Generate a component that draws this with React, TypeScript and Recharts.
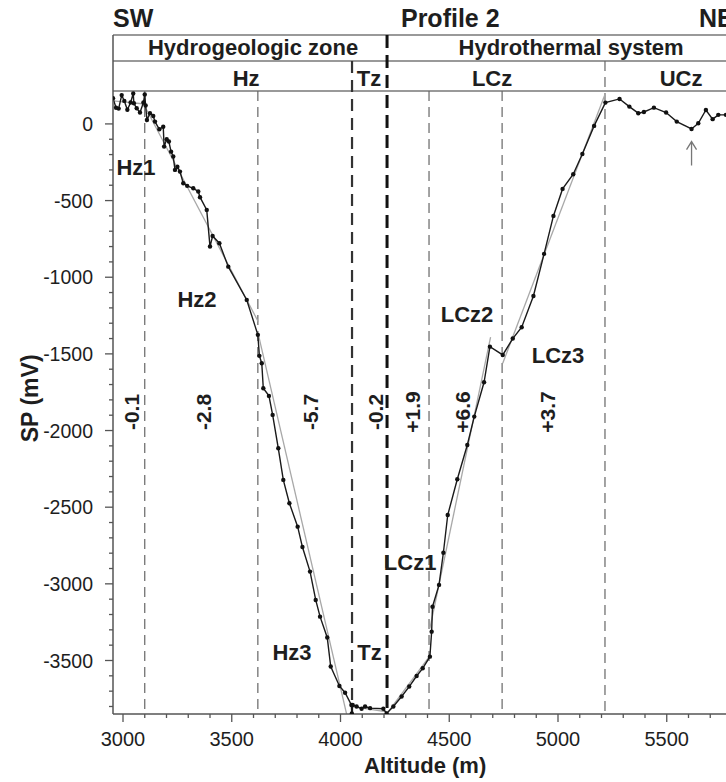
import React from 'react';
import { LineChart, Line, XAxis, YAxis, ReferenceLine, ReferenceDot } from 'recharts';

const FONT = 'Liberation Sans, Arial, Helvetica, sans-serif';

// SP profile (altitude m, SP mV)
const profileAltitude = [
  2954, 2968, 2980, 2994, 3006, 3020, 3035, 3047, 3050, 3063, 3078, 3094, 3100, 3104, 3110, 3124, 3139,
  3147, 3167, 3185, 3189, 3201, 3211, 3221, 3231, 3239, 3250, 3262, 3277, 3295, 3323, 3346, 3354, 3385,
  3400, 3412, 3443, 3484, 3569, 3620, 3627, 3638, 3645, 3671, 3688, 3714, 3737, 3765, 3803, 3825, 3860,
  3886, 3906, 3939, 3955, 3995, 4021, 4050, 4052, 4056, 4074, 4097, 4113, 4136, 4197, 4212, 4243, 4281,
  4316, 4350, 4378, 4411, 4419, 4423, 4453, 4473, 4493, 4537, 4583, 4615, 4660, 4687, 4746, 4792, 4833,
  4887, 4936, 4979, 5021, 5070, 5112, 5166, 5218, 5283, 5328, 5369, 5395, 5441, 5497, 5546, 5614, 5645,
  5680, 5711, 5737, 5772, 5800,
];
const profileSP = [
  168, 105, 100, 188, 150, 92, 140, 198, 135, 102, 74, 140, 192, 120, 26, 70, 52,
  15, -35, -18, -148, -100, -115, -181, -213, -300, -279, -311, -387, -404, -420, -441, -478, -561,
  -800, -731, -778, -931, -1148, -1376, -1513, -1561, -1724, -1774, -1898, -2116, -2322, -2474, -2627, -2760, -2920,
  -3105, -3214, -3350, -3539, -3666, -3710, -3790, -3845, -3790, -3800, -3815, -3800, -3811, -3815, -3845, -3800, -3735,
  -3670, -3601, -3551, -3475, -3312, -3149, -3007, -2797, -2551, -2318, -2094, -1909, -1685, -1453, -1507, -1400, -1326,
  -1122, -848, -600, -424, -328, -196, -13, 139, 163, 113, 70, 78, 106, 74, 15, -33, 4,
  91, 31, 59, 59, 55,
];

// linear fits per zone
const fitStartAlt = [2954, 3100, 3620, 4053, 4214, 4411, 4746];
const fitEndAlt = [3100, 3622, 4028, 4214, 4411, 4690, 5218];
const fitStartSP = [150, 115, -1360, -3800, -3845, -3290, -1561];
const fitEndSP = [130, -1290, -3849, -3835, -3470, -1390, 200];

// zone boundaries
const boundaryAlt = [3100, 3620, 4053, 4214, 4407, 4743, 5216];
const boundaryTopSP = [215, 215, 411, 580, 215, 215, 411];
const boundaryKind = ['thin', 'thin', 'medium', 'thick', 'thin', 'thin', 'thin'];

// header box levels (mV)
const headerLevels = [580, 411, 215];

// axis ticks
const xMajorTicks = [3000, 3500, 4000, 4500, 5000, 5500];
const xMinorTicks = [3100, 3200, 3300, 3400, 3600, 3700, 3800, 3900, 4100, 4200, 4300, 4400, 4600, 4700, 4800, 4900, 5100, 5200, 5300, 5400, 5600, 5700];
const yMajorTicks = [0, -500, -1000, -1500, -2000, -2500, -3000, -3500];
const yMinorTicks = [-100, -200, -300, -400, -600, -700, -800, -900, -1100, -1200, -1300, -1400, -1600, -1700, -1800, -1900, -2100, -2200, -2300, -2400, -2600, -2700, -2800, -2900, -3100, -3200, -3300, -3400, -3600, -3700, -3800];

// zone labels
const zoneLabelText = ['Hz1', 'Hz2', 'Hz3', 'Tz', 'LCz1', 'LCz2', 'LCz3'];
const zoneLabelAlt = [3060, 3340, 3777, 4133, 4320, 4582, 5000];
const zoneLabelSP = [-333, -1194, -3496, -3496, -2909, -1292, -1559];

// gradient labels (mV/m)
const slopeText = ['-0.1', '-2.8', '-5.7', '-0.2', '+1.9', '+6.6', '+3.7'];
const slopeAlt = [3037, 3372, 3860, 4159, 4333, 4559, 4954];
const slopeSP = -1879;

// header texts
const headerText = ['Hydrogeologic zone', 'Hydrothermal system', 'Hz', 'Tz', 'LCz', 'UCz'];
const headerAlt = [3598, 5060, 3566, 4131, 4697, 5566];
const headerSP = [450, 450, 248, 248, 248, 248];

const titleText = ['SW', 'Profile 2', 'NE'];
const titleAlt = [2954, 4278, 5648];
const titleSP = 633;

const arrowAlt = 5614;
const arrowSP = -115;

const profile = profileAltitude.map((a, i) => ({ alt: a, sp: profileSP[i] }));
const fits = fitStartAlt.map((a, i) => [
  { alt: a, sp: fitStartSP[i] },
  { alt: fitEndAlt[i], sp: fitEndSP[i] },
]);
const xTicks = [...xMajorTicks, ...xMinorTicks].sort((a, b) => a - b);
const yTicks = [...yMajorTicks, ...yMinorTicks].sort((a, b) => a - b);

const XTick = (props: any) => {
  const { x, y, payload } = props;
  const v = payload.value;
  const major = xMajorTicks.includes(v);
  return (
    <g>
      <line x1={x} x2={x} y1={y} y2={y + (major ? 8 : 4)} stroke="#555" strokeWidth={1.3} />
      {major && (
        <text x={x} y={y + 32} textAnchor="middle" fontSize={20} fill="#1e1e1e" fontFamily={FONT}>
          {v}
        </text>
      )}
    </g>
  );
};

const YTick = (props: any) => {
  const { x, y, payload } = props;
  const v = payload.value;
  const major = yMajorTicks.includes(v);
  return (
    <g>
      <line x1={x - (major ? 8 : 4)} x2={x} y1={y} y2={y} stroke="#555" strokeWidth={1.3} />
      {major && (
        <text x={x - 20} y={y} dy="0.36em" textAnchor="end" fontSize={19.5} fill="#1e1e1e" fontFamily={FONT}>
          {v}
        </text>
      )}
    </g>
  );
};

const boundaryStyle: Record<string, { stroke: string; w: number; dash: string }> = {
  thin: { stroke: '#666', w: 1.2, dash: '10 6' },
  medium: { stroke: '#333', w: 2.2, dash: '12 7' },
  thick: { stroke: '#111', w: 3, dash: '13 7' },
};

const textShape = (text: string, size: number, anchor: string, rotate = false, central = false) => (p: any) => {
  const cx = p.cx;
  const cy = p.cy;
  return (
    <text
      x={cx}
      y={cy}
      textAnchor={anchor}
      dominantBaseline={central ? 'central' : 'auto'}
      transform={rotate ? `rotate(-90 ${cx} ${cy})` : undefined}
      fontSize={size}
      fontWeight="bold"
      fill="#1e1e1e"
      fontFamily={FONT}
    >
      {text}
    </text>
  );
};

const arrowShape = (p: any) => {
  const cx = p.cx;
  const cy = p.cy;
  return (
    <path
      d={`M ${cx} ${cy} L ${cx} ${cy + 24} M ${cx - 5} ${cy + 8} L ${cx} ${cy} L ${cx + 5} ${cy + 8}`}
      stroke="#777"
      strokeWidth={1.3}
      fill="none"
    />
  );
};

export default function App() {
  return (
    <div style={{ position: 'fixed', left: 0, top: 0, width: 726, height: 782, overflow: 'hidden', background: '#fff' }}>
      <LineChart width={740} height={782} margin={{ top: 35, right: 8, bottom: 0, left: 0 }}>
        <XAxis
          type="number"
          dataKey="alt"
          domain={[2954, 5800]}
          allowDataOverflow
          ticks={xTicks}
          interval={0}
          tick={<XTick />}
          tickLine={false}
          tickSize={0}
          tickMargin={0}
          height={68}
          axisLine={{ stroke: '#555', strokeWidth: 1.5 }}
        />
        <YAxis
          type="number"
          dataKey="sp"
          domain={[-3849, 580]}
          allowDataOverflow
          ticks={yTicks}
          interval={0}
          tick={<YTick />}
          tickLine={false}
          tickSize={0}
          tickMargin={0}
          width={113}
          axisLine={{ stroke: '#555', strokeWidth: 1.5 }}
        />
        {headerLevels.map((lv, i) => (
          <ReferenceLine key={`h${i}`} y={lv} stroke="#777" strokeWidth={1.5} ifOverflow="visible" />
        ))}
        {boundaryAlt.map((a, i) => {
          const s = boundaryStyle[boundaryKind[i]];
          return (
            <ReferenceLine
              key={`b${i}`}
              segment={[
                { x: a, y: boundaryTopSP[i] },
                { x: a, y: -3849 },
              ]}
              stroke={s.stroke}
              strokeWidth={s.w}
              strokeDasharray={s.dash}
              ifOverflow="visible"
            />
          );
        })}
        {fits.map((f, i) => (
          <Line
            key={`f${i}`}
            data={f}
            dataKey="sp"
            stroke="#a8a8a8"
            strokeWidth={1.3}
            dot={false}
            isAnimationActive={false}
          />
        ))}
        <Line
          data={profile}
          dataKey="sp"
          stroke="#1a1a1a"
          strokeWidth={1.4}
          dot={{ r: 2.2, fill: '#111', stroke: 'none' }}
          isAnimationActive={false}
        />
        {zoneLabelText.map((t, i) => (
          <ReferenceDot key={`z${i}`} x={zoneLabelAlt[i]} y={zoneLabelSP[i]} r={1} ifOverflow="visible" shape={textShape(t, 22, 'middle')} />
        ))}
        {slopeText.map((t, i) => (
          <ReferenceDot key={`s${i}`} x={slopeAlt[i]} y={slopeSP} r={1} ifOverflow="visible" shape={textShape(t, 21, 'middle', true, true)} />
        ))}
        {headerText.map((t, i) => (
          <ReferenceDot key={`ht${i}`} x={headerAlt[i]} y={headerSP[i]} r={1} ifOverflow="visible" shape={textShape(t, 22, 'middle')} />
        ))}
        {titleText.map((t, i) => (
          <ReferenceDot key={`t${i}`} x={titleAlt[i]} y={titleSP} r={1} ifOverflow="visible" shape={textShape(t, 25, 'start')} />
        ))}
        <ReferenceDot x={4389} y={-4233} r={1} ifOverflow="visible" shape={textShape('Altitude (m)', 22, 'middle')} />
        <ReferenceDot x={2572} y={-1790} r={1} ifOverflow="visible" shape={textShape('SP (mV)', 23, 'middle', true, true)} />
        <ReferenceDot x={arrowAlt} y={arrowSP} r={1} ifOverflow="visible" shape={arrowShape} />
      </LineChart>
    </div>
  );
}
